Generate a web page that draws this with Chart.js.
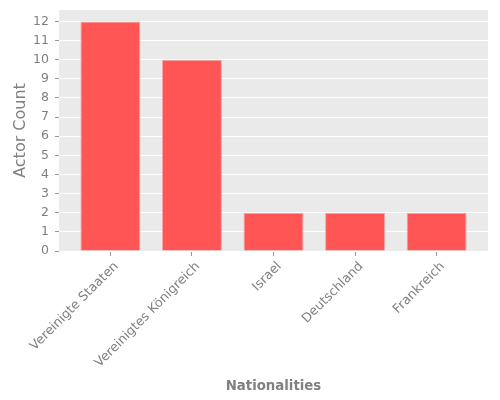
<!DOCTYPE html>
<html>
<head>
<meta charset="utf-8">
<script src="https://cdn.jsdelivr.net/npm/chart.js@4"></script>
<style>
  html, body { margin: 0; padding: 0; background: #fff; }
  #wrap { width: 500px; height: 400px; }
</style>
</head>
<body>
<div id="wrap"><canvas id="myChart"></canvas></div>
<script>
'use strict';

// chart data
const nationalities = ['Vereinigte Staaten', 'Vereinigtes Königreich', 'Israel', 'Deutschland', 'Frankreich'];
const actorCounts = [12, 10, 2, 2, 2];
const yTicks = [0, 1, 2, 3, 4, 5, 6, 7, 8, 9, 10, 11, 12];

const tickGray = '#808080';
const font = 'DejaVu Sans';

// grey panel behind the plot, ggplot style
const panelBg = {
  id: 'panelBg',
  beforeDraw(chart) {
    const a = chart.chartArea;
    const c = chart.ctx;
    c.save();
    c.fillStyle = '#EAEAEA';
    c.fillRect(a.left, a.top, a.right - a.left, a.bottom - a.top);
    c.restore();
  }
};

const points = actorCounts.map((v, i) => ({ x: i, y: v }));

const ctx = document.getElementById('myChart').getContext('2d');
const myChart = new Chart(ctx, {
  type: 'bar',
  data: {
    datasets: [{
      data: points,
      backgroundColor: '#FF5555',
      borderColor: '#F6A6A6',
      borderWidth: 1,
      barPercentage: 0.735,
      categoryPercentage: 1
    }]
  },
  options: {
    responsive: true,
    maintainAspectRatio: false,
    animation: false,
    layout: { padding: { top: 10, right: 12, bottom: 1, left: 7 } },
    plugins: {
      legend: { display: false },
      tooltip: { enabled: false }
    },
    scales: {
      x: {
        type: 'linear',
        offset: false,
        min: -0.63,
        max: 4.63,
        afterBuildTicks(axis) {
          axis.ticks = nationalities.map((n, i) => ({ value: i }));
        },
        afterFit(axis) {
          axis.height = 148;
          axis.paddingLeft = 0;
          axis.paddingRight = 0;
        },
        grid: { offset: false, drawOnChartArea: false, tickLength: 5, tickColor: '#999' },
        border: { display: false },
        ticks: {
          autoSkip: false,
          minRotation: 45,
          maxRotation: 45,
          labelOffset: 6,
          color: tickGray,
          font: { family: font, size: 12.8 },
          callback: (v) => nationalities[v]
        },
        title: {
          display: true,
          text: 'Nationalities',
          color: tickGray,
          font: { family: font, size: 13.3, weight: 'bold' },
          padding: { top: 12 }
        }
      },
      y: {
        min: 0,
        max: 12.6,
        afterBuildTicks(axis) {
          axis.ticks = yTicks.map(v => ({ value: v }));
        },
        afterFit(axis) {
          axis.width = 52;
          axis.paddingTop = 0;
          axis.paddingBottom = 0;
        },
        grid: { color: '#FFFFFF', lineWidth: 1, tickLength: 4, tickColor: '#999' },
        border: { display: false },
        ticks: {
          color: tickGray,
          font: { family: font, size: 12.5 },
          padding: 6
        },
        title: {
          display: true,
          text: 'Actor Count',
          color: tickGray,
          font: { family: font, size: 16 },
          padding: { bottom: 0 }
        }
      }
    }
  },
  plugins: [panelBg]
});
</script>
</body>
</html>
